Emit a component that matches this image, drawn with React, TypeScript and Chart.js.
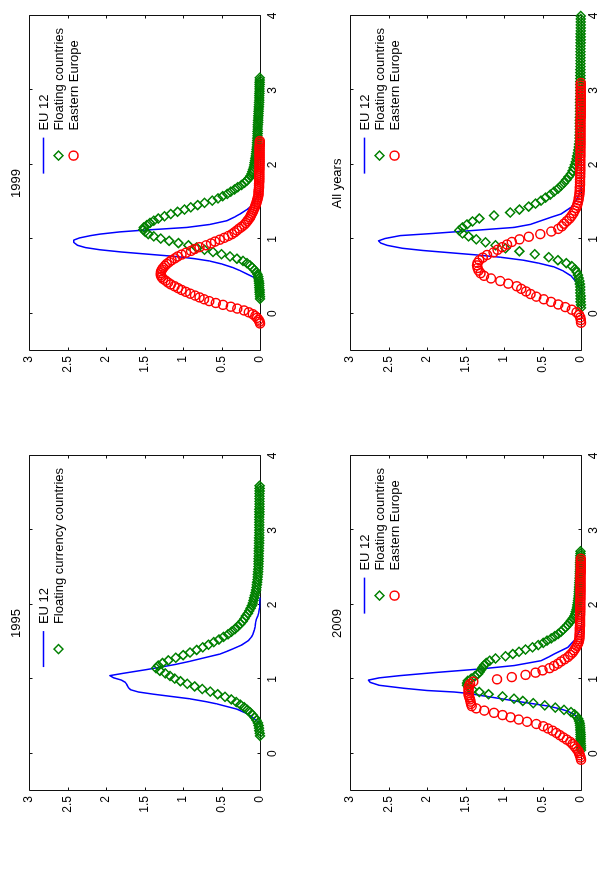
import { useEffect, useRef } from 'react';
import { Chart, registerables } from 'chart.js';

Chart.register(...registerables);

const FONT = "'Liberation Sans', Arial, Helvetica, sans-serif";
const BLUE = 'rgb(0,0,255)';
const GREEN = 'rgb(0,128,0)';
const RED = 'rgb(255,0,0)';

// Axis ticks shared by all four panels
const xTicks = [0, 1, 2, 3, 4];
const yTicks = [0, 0.5, 1, 1.5, 2, 2.5, 3];

// ---------- 1995 ----------
const eu95X = [0.40, 0.44, 0.50, 0.54, 0.60, 0.64, 0.67, 0.70, 0.74, 0.77, 0.80, 0.83, 0.86, 0.89, 0.93, 0.96, 0.99, 1.02, 1.05, 1.08, 1.10, 1.13, 1.155, 1.20, 1.24, 1.275, 1.30, 1.34, 1.38, 1.41, 1.46, 1.52, 1.57, 1.61, 1.66, 1.70, 1.75, 1.80, 1.85, 1.90, 1.96, 2.03, 2.10];
const eu95Y = [0, 0.04, 0.11, 0.17, 0.30, 0.45, 0.56, 0.70, 0.92, 1.15, 1.38, 1.58, 1.68, 1.71, 1.73, 1.75, 1.80, 1.90, 1.95, 1.78, 1.66, 1.48, 1.34, 1.10, 0.92, 0.78, 0.68, 0.52, 0.42, 0.35, 0.24, 0.15, 0.11, 0.09, 0.075, 0.065, 0.06, 0.05, 0.03, 0.015, 0.008, 0.004, 0];

const float95X = [
  0.240, 0.275, 0.310, 0.345, 0.380, 0.415, 0.450, 0.485, 0.520, 0.555,
  0.590, 0.625, 0.660, 0.695, 0.730, 0.765, 0.800, 0.835, 0.870, 0.905,
  0.940, 0.975, 1.010, 1.045, 1.080, 1.115, 1.150, 1.185, 1.220, 1.255,
  1.290, 1.325, 1.360, 1.395, 1.430, 1.465, 1.500, 1.535, 1.570, 1.605,
  1.640, 1.675, 1.710, 1.745, 1.780, 1.815, 1.850, 1.885, 1.920, 1.955,
  1.990, 2.025, 2.060, 2.095, 2.130, 2.165, 2.200, 2.235, 2.270, 2.305,
  2.340, 2.375, 2.410, 2.445, 2.480, 2.515, 2.550, 2.585, 2.620, 2.655,
  2.690, 2.725, 2.760, 2.795, 2.830, 2.865, 2.900, 2.935, 2.970, 3.005,
  3.040, 3.075, 3.110, 3.145, 3.180, 3.215, 3.250, 3.285, 3.320, 3.355,
  3.390, 3.425, 3.460, 3.495, 3.530, 3.565, 3.600,
];
const float95Y = [
  0, 0.004, 0.009, 0.013, 0.018, 0.027, 0.045, 0.069, 0.095, 0.126,
  0.164, 0.206, 0.255, 0.309, 0.372, 0.454, 0.55, 0.646, 0.75, 0.849,
  0.945, 1.034, 1.108, 1.169, 1.23, 1.30, 1.35, 1.32, 1.265, 1.19,
  1.093, 0.998, 0.91, 0.823, 0.743, 0.67, 0.60, 0.534, 0.473, 0.414,
  0.37, 0.326, 0.29, 0.255, 0.225, 0.202, 0.183, 0.158, 0.14, 0.122,
  0.105, 0.094, 0.085, 0.076, 0.068, 0.059, 0.05, 0.046, 0.041, 0.037,
  0.033, 0.029, 0.027, 0.025, 0.022, 0.02, 0.019, 0.018, 0.018, 0.017,
  0.016, 0.015, 0.014, 0.013, 0.012, 0.012, 0.011, 0.01, 0.01, 0.01,
  0.01, 0.009, 0.009, 0.009, 0.009, 0.008, 0.008, 0.008, 0.007, 0.007,
  0.007, 0.007, 0.006, 0.006, 0.005, 0.005, 0.005,
];

// ---------- 1999 ----------
const eu99X = [0.40, 0.47, 0.53, 0.58, 0.62, 0.67, 0.71, 0.74, 0.77, 0.80, 0.83, 0.86, 0.89, 0.92, 0.96, 0.99, 1.02, 1.05, 1.07, 1.10, 1.12, 1.14, 1.16, 1.20, 1.25, 1.30, 1.34, 1.40, 1.45, 1.51, 1.57, 1.62, 1.67];
const eu99Y = [0, 0.04, 0.16, 0.26, 0.35, 0.50, 0.66, 0.85, 1.10, 1.45, 1.80, 2.08, 2.27, 2.37, 2.42, 2.42, 2.34, 2.20, 2.08, 1.82, 1.56, 1.25, 0.95, 0.65, 0.43, 0.33, 0.26, 0.17, 0.11, 0.07, 0.04, 0.015, 0];

const float99X = [
  0.20, 0.23, 0.26, 0.29, 0.32, 0.35, 0.38, 0.41, 0.44, 0.47,
  0.50, 0.53, 0.56, 0.59, 0.62, 0.65, 0.68, 0.71, 0.74, 0.77,
  0.80, 0.83, 0.86, 0.89, 0.92, 0.95, 0.98, 1.01, 1.04, 1.07,
  1.10, 1.13, 1.16, 1.19, 1.22, 1.25, 1.28, 1.31, 1.34, 1.37,
  1.40, 1.43, 1.46, 1.49, 1.52, 1.55, 1.58, 1.61, 1.64, 1.67,
  1.70, 1.73, 1.76, 1.79, 1.82, 1.85, 1.88, 1.91, 1.94, 1.97,
  2.00, 2.03, 2.06, 2.09, 2.12, 2.15, 2.18, 2.21, 2.24, 2.27,
  2.30, 2.33, 2.36, 2.39, 2.42, 2.45, 2.48, 2.51, 2.54, 2.57,
  2.60, 2.63, 2.66, 2.69, 2.72, 2.75, 2.78, 2.81, 2.84, 2.87,
  2.90, 2.93, 2.96, 2.99, 3.02, 3.05, 3.08, 3.11, 3.14, 3.17,
];
const float99Y = [
  0, 0, 0.003, 0.005, 0.005, 0.009, 0.01, 0.011, 0.015, 0.019,
  0.025, 0.033, 0.05, 0.072, 0.10, 0.13, 0.17, 0.222, 0.30, 0.39,
  0.50, 0.61, 0.72, 0.825, 0.93, 1.06, 1.18, 1.29, 1.38, 1.45,
  1.49, 1.515, 1.51, 1.47, 1.43, 1.38, 1.32, 1.24, 1.16, 1.07,
  0.98, 0.90, 0.81, 0.72, 0.62, 0.545, 0.485, 0.425, 0.38, 0.33,
  0.29, 0.24, 0.20, 0.17, 0.145, 0.125, 0.11, 0.099, 0.09, 0.082,
  0.075, 0.07, 0.065, 0.06, 0.056, 0.052, 0.047, 0.044, 0.04, 0.038,
  0.037, 0.035, 0.034, 0.033, 0.031, 0.031, 0.03, 0.029, 0.027, 0.025,
  0.024, 0.023, 0.021, 0.02, 0.018, 0.017, 0.015, 0.013, 0.012, 0.01,
  0.01, 0.009, 0.008, 0.007, 0.007, 0.006, 0.005, 0.005, 0.004, 0.004,
];

const east99X = [
  -0.130, -0.105, -0.080, -0.055, -0.030, -0.005, 0.020, 0.045, 0.070, 0.095,
  0.120, 0.145, 0.170, 0.195, 0.220, 0.245, 0.270, 0.295, 0.320, 0.345,
  0.370, 0.395, 0.420, 0.445, 0.470, 0.495, 0.520, 0.545, 0.570, 0.595,
  0.620, 0.645, 0.670, 0.695, 0.720, 0.745, 0.770, 0.795, 0.820, 0.845,
  0.870, 0.895, 0.920, 0.945, 0.970, 0.995, 1.020, 1.045, 1.070, 1.095,
  1.120, 1.145, 1.170, 1.195, 1.220, 1.245, 1.270, 1.295, 1.320, 1.345,
  1.370, 1.395, 1.420, 1.445, 1.470, 1.495, 1.520, 1.545, 1.570, 1.595,
  1.620, 1.645, 1.670, 1.695, 1.720, 1.745, 1.770, 1.795, 1.820, 1.845,
  1.870, 1.895, 1.920, 1.945, 1.970, 1.995, 2.020, 2.045, 2.070, 2.095,
  2.120, 2.145, 2.170, 2.195, 2.220, 2.245, 2.270, 2.295, 2.320,
];
const east99Y = [
  0, 0.006, 0.02, 0.039, 0.063, 0.094, 0.145, 0.208, 0.295, 0.38,
  0.48, 0.574, 0.658, 0.726, 0.785, 0.843, 0.905, 0.964, 1.02, 1.064,
  1.11, 1.16, 1.195, 1.226, 1.26, 1.279, 1.29, 1.29, 1.285, 1.272,
  1.255, 1.235, 1.21, 1.18, 1.15, 1.106, 1.07, 1.02, 0.96, 0.896,
  0.85, 0.785, 0.70, 0.636, 0.585, 0.522, 0.465, 0.411, 0.365, 0.331,
  0.30, 0.269, 0.238, 0.206, 0.185, 0.166, 0.148, 0.13, 0.12, 0.108,
  0.095, 0.083, 0.073, 0.063, 0.054, 0.046, 0.04, 0.033, 0.027, 0.021,
  0.019, 0.018, 0.016, 0.014, 0.013, 0.012, 0.011, 0.01, 0.01, 0.01,
  0.009, 0.009, 0.009, 0.008, 0.008, 0.008, 0.007, 0.007, 0.007, 0.006,
  0.006, 0.006, 0.005, 0.005, 0.005, 0.005, 0.004, 0.004, 0.004,
];

// ---------- 2009 ----------
const eu09X = [0.40, 0.44, 0.50, 0.53, 0.57, 0.60, 0.64, 0.67, 0.70, 0.74, 0.78, 0.81, 0.83, 0.85, 0.88, 0.92, 0.96, 0.99, 1.02, 1.05, 1.09, 1.14, 1.185, 1.25, 1.30, 1.34, 1.43, 1.52, 1.61, 1.67, 1.72];
const eu09Y = [0, 0.02, 0.06, 0.09, 0.17, 0.26, 0.42, 0.61, 0.80, 1.04, 1.28, 1.45, 1.65, 2.00, 2.30, 2.62, 2.74, 2.76, 2.62, 2.35, 1.91, 1.30, 0.87, 0.52, 0.42, 0.35, 0.17, 0.09, 0.04, 0.01, 0];

const float09X = [
  0.05, 0.08, 0.11, 0.14, 0.17, 0.20, 0.23, 0.26, 0.29, 0.32,
  0.35, 0.38, 0.41, 0.44, 0.47, 0.50, 0.53, 0.56, 0.59, 0.62,
  0.65, 0.68, 0.71, 0.74, 0.77, 0.80, 0.83, 0.86, 0.89, 0.92,
  0.95, 0.98, 1.01, 1.04, 1.07, 1.10, 1.13, 1.16, 1.19, 1.22,
  1.25, 1.28, 1.31, 1.34, 1.37, 1.40, 1.43, 1.46, 1.49, 1.52,
  1.55, 1.58, 1.61, 1.64, 1.67, 1.70, 1.73, 1.76, 1.79, 1.82,
  1.85, 1.88, 1.91, 1.94, 1.97, 2.00, 2.03, 2.06, 2.09, 2.12,
  2.15, 2.18, 2.21, 2.24, 2.27, 2.30, 2.33, 2.36, 2.39, 2.42,
  2.45, 2.48, 2.51, 2.54, 2.57, 2.60, 2.63, 2.66, 2.69, 2.72,
];
const float09Y = [
  0, 0, 0, 0.004, 0.005, 0.005, 0.005, 0.005, 0.006, 0.01,
  0.01, 0.013, 0.017, 0.025, 0.036, 0.055, 0.085, 0.13, 0.22, 0.335,
  0.47, 0.62, 0.755, 0.87, 1.02, 1.20, 1.32, 1.41, 1.46, 1.48,
  1.48, 1.47, 1.425, 1.38, 1.34, 1.315, 1.295, 1.28, 1.258, 1.23,
  1.186, 1.11, 0.98, 0.885, 0.805, 0.72, 0.63, 0.555, 0.49, 0.44,
  0.387, 0.34, 0.297, 0.26, 0.23, 0.20, 0.173, 0.15, 0.128, 0.105,
  0.087, 0.075, 0.066, 0.057, 0.05, 0.048, 0.043, 0.039, 0.035, 0.033,
  0.03, 0.028, 0.026, 0.024, 0.022, 0.021, 0.019, 0.018, 0.016, 0.015,
  0.015, 0.013, 0.012, 0.011, 0.011, 0.01, 0.009, 0.008, 0.007, 0.006,
];

const east09X = [
  -0.08, -0.05, -0.02, 0.01, 0.04, 0.07, 0.10, 0.13, 0.16, 0.19,
  0.22, 0.25, 0.28, 0.31, 0.34, 0.37, 0.40, 0.43, 0.46, 0.49,
  0.52, 0.55, 0.58, 0.61, 0.64, 0.67, 0.70, 0.73, 0.76, 0.79,
  0.82, 0.85, 0.88, 0.91, 0.94, 0.97, 1.00, 1.03, 1.06, 1.09,
  1.12, 1.15, 1.18, 1.21, 1.24, 1.27, 1.30, 1.33, 1.36, 1.39,
  1.42, 1.45, 1.48, 1.51, 1.54, 1.57, 1.60, 1.63, 1.66, 1.69,
  1.72, 1.75, 1.78, 1.81, 1.84, 1.87, 1.90, 1.93, 1.96, 1.99,
  2.02, 2.05, 2.08, 2.11, 2.14, 2.17, 2.20, 2.23, 2.26, 2.29,
  2.32, 2.35, 2.38, 2.41, 2.44, 2.47, 2.50, 2.53, 2.56, 2.59,
  2.62,
];
const east09Y = [
  0, 0.007, 0.015, 0.025, 0.04, 0.062, 0.085, 0.11, 0.14, 0.185,
  0.23, 0.275, 0.32, 0.37, 0.43, 0.49, 0.58, 0.70, 0.81, 0.915,
  1.02, 1.13, 1.255, 1.36, 1.42, 1.43, 1.435, 1.44, 1.45, 1.46,
  1.46, 1.46, 1.46, 1.455, 1.44, 1.40, 1.09, 0.90, 0.72, 0.59,
  0.50, 0.41, 0.35, 0.30, 0.26, 0.215, 0.17, 0.14, 0.11, 0.09,
  0.07, 0.055, 0.04, 0.029, 0.022, 0.02, 0.018, 0.017, 0.016, 0.015,
  0.014, 0.014, 0.013, 0.012, 0.012, 0.011, 0.011, 0.01, 0.01, 0.01,
  0.009, 0.009, 0.008, 0.008, 0.008, 0.007, 0.007, 0.007, 0.006, 0.006,
  0.006, 0.005, 0.005, 0.005, 0.004, 0.004, 0.004, 0.004, 0.003, 0.003,
  0.003,
];

// ---------- All years ----------
const euAllX = [0.27, 0.40, 0.51, 0.58, 0.63, 0.68, 0.72, 0.76, 0.79, 0.82, 0.85, 0.88, 0.92, 0.95, 0.98, 1.01, 1.05, 1.08, 1.12, 1.16, 1.20, 1.25, 1.30, 1.34, 1.43, 1.52, 1.61, 1.70];
const euAllY = [0, 0.04, 0.13, 0.24, 0.35, 0.55, 0.75, 1.05, 1.35, 1.70, 2.05, 2.32, 2.52, 2.60, 2.63, 2.55, 2.35, 1.91, 1.39, 0.87, 0.66, 0.52, 0.38, 0.26, 0.13, 0.065, 0.02, 0];

const floatAllX = [
  0.08, 0.12, 0.16, 0.20, 0.24, 0.28, 0.32, 0.36, 0.40, 0.44,
  0.48, 0.52, 0.56, 0.60, 0.64, 0.68, 0.72, 0.76, 0.80, 0.84,
  0.88, 0.92, 0.96, 1.00, 1.04, 1.08, 1.12, 1.16, 1.20, 1.24,
  1.28, 1.32, 1.36, 1.40, 1.44, 1.48, 1.52, 1.56, 1.60, 1.64,
  1.68, 1.72, 1.76, 1.80, 1.84, 1.88, 1.92, 1.96, 2.00, 2.04,
  2.08, 2.12, 2.16, 2.20, 2.24, 2.28, 2.32, 2.36, 2.40, 2.44,
  2.48, 2.52, 2.56, 2.60, 2.64, 2.68, 2.72, 2.76, 2.80, 2.84,
  2.88, 2.92, 2.96, 3.00, 3.04, 3.08, 3.12, 3.16, 3.20, 3.24,
  3.28, 3.32, 3.36, 3.40, 3.44, 3.48, 3.52, 3.56, 3.60, 3.64,
  3.68, 3.72, 3.76, 3.80, 3.84, 3.88, 3.92, 3.96, 4.00,
];
const floatAllY = [
  0, 0, 0.005, 0.005, 0.005, 0.01, 0.01, 0.01, 0.015, 0.02,
  0.03, 0.04, 0.055, 0.08, 0.12, 0.19, 0.30, 0.42, 0.60, 0.80,
  0.98, 1.11, 1.24, 1.36, 1.46, 1.54, 1.58, 1.54, 1.48, 1.41,
  1.32, 1.13, 0.92, 0.80, 0.68, 0.59, 0.52, 0.46, 0.40, 0.35,
  0.30, 0.26, 0.22, 0.19, 0.16, 0.13, 0.11, 0.095, 0.08, 0.068,
  0.058, 0.05, 0.042, 0.036, 0.03, 0.025, 0.02, 0.019, 0.018, 0.017,
  0.016, 0.015, 0.015, 0.014, 0.014, 0.013, 0.013, 0.012, 0.012, 0.011,
  0.011, 0.01, 0.01, 0.01, 0.009, 0.009, 0.009, 0.008, 0.008, 0.008,
  0.008, 0.007, 0.007, 0.007, 0.007, 0.006, 0.006, 0.006, 0.006, 0.005,
  0.005, 0.005, 0.005, 0.004, 0.004, 0.004, 0.004, 0.003, 0.003,
];

const eastAllX = [
  -0.120, -0.085, -0.050, -0.015, 0.020, 0.055, 0.090, 0.125, 0.160, 0.195,
  0.230, 0.265, 0.300, 0.335, 0.370, 0.405, 0.440, 0.475, 0.510, 0.545,
  0.580, 0.615, 0.650, 0.685, 0.720, 0.755, 0.790, 0.825, 0.860, 0.895,
  0.930, 0.965, 1.000, 1.035, 1.070, 1.105, 1.140, 1.175, 1.210, 1.245,
  1.280, 1.315, 1.350, 1.385, 1.420, 1.455, 1.490, 1.525, 1.560, 1.595,
  1.630, 1.665, 1.700, 1.735, 1.770, 1.805, 1.840, 1.875, 1.910, 1.945,
  1.980, 2.015, 2.050, 2.085, 2.120, 2.155, 2.190, 2.225, 2.260, 2.295,
  2.330, 2.365, 2.400, 2.435, 2.470, 2.505, 2.540, 2.575, 2.610, 2.645,
  2.680, 2.715, 2.750, 2.785, 2.820, 2.855, 2.890, 2.925, 2.960, 2.995,
  3.030, 3.065, 3.100,
];
const eastAllY = [
  0, 0.004, 0.009, 0.025, 0.06, 0.12, 0.205, 0.295, 0.39, 0.485,
  0.58, 0.655, 0.715, 0.775, 0.835, 0.945, 1.05, 1.17, 1.26, 1.305,
  1.33, 1.343, 1.35, 1.343, 1.32, 1.276, 1.22, 1.135, 1.085, 1.022,
  0.96, 0.898, 0.80, 0.678, 0.53, 0.385, 0.297, 0.25, 0.22, 0.185,
  0.15, 0.124, 0.101, 0.083, 0.066, 0.053, 0.043, 0.034, 0.028, 0.022,
  0.018, 0.016, 0.015, 0.014, 0.013, 0.012, 0.011, 0.011, 0.01, 0.01,
  0.01, 0.009, 0.009, 0.009, 0.008, 0.008, 0.008, 0.008, 0.007, 0.007,
  0.007, 0.006, 0.006, 0.006, 0.006, 0.005, 0.005, 0.005, 0.005, 0.004,
  0.004, 0.004, 0.004, 0.004, 0.003, 0.003, 0.003, 0.003, 0.003, 0.002,
  0.002, 0.002, 0.002,
];

type Kind = 'line' | 'diamond' | 'circle';
type Series = { label: string; xs: number[]; ys: number[]; kind: Kind };
type PanelCfg = { title: string; left: number; top: number; series: Series[] };

// Each panel is drawn upright on a 430x282 canvas and turned a quarter turn
// counter-clockwise on the page.
const CW = 430;
const CH = 282;
const MARK_R = 4.5;
const MARK_W = 1.5;

const panels: PanelCfg[] = [
  {
    title: '1999', left: 0, top: 0,
    series: [
      { label: 'EU 12', xs: eu99X, ys: eu99Y, kind: 'line' },
      { label: 'Floating countries', xs: float99X, ys: float99Y, kind: 'diamond' },
      { label: 'Eastern Europe', xs: east99X, ys: east99Y, kind: 'circle' },
    ],
  },
  {
    title: 'All years', left: 321, top: 0,
    series: [
      { label: 'EU 12', xs: euAllX, ys: euAllY, kind: 'line' },
      { label: 'Floating countries', xs: floatAllX, ys: floatAllY, kind: 'diamond' },
      { label: 'Eastern Europe', xs: eastAllX, ys: eastAllY, kind: 'circle' },
    ],
  },
  {
    title: '1995', left: 0, top: 440,
    series: [
      { label: 'EU 12', xs: eu95X, ys: eu95Y, kind: 'line' },
      { label: 'Floating currency countries', xs: float95X, ys: float95Y, kind: 'diamond' },
    ],
  },
  {
    title: '2009', left: 321, top: 440,
    series: [
      { label: 'EU 12', xs: eu09X, ys: eu09Y, kind: 'line' },
      { label: 'Floating countries', xs: float09X, ys: float09Y, kind: 'diamond' },
      { label: 'Eastern Europe', xs: east09X, ys: east09Y, kind: 'circle' },
    ],
  },
];

const zip = (xs: number[], ys: number[]) => {
  const n = Math.min(xs.length, ys.length);
  const out: { x: number; y: number }[] = [];
  for (let i = 0; i < n; i++) out.push({ x: xs[i], y: ys[i] });
  return out;
};

function toDataset(s: Series) {
  if (s.kind === 'line') {
    return {
      label: s.label,
      data: zip(s.xs, s.ys),
      showLine: true,
      borderColor: BLUE,
      borderWidth: 1.5,
      borderJoinStyle: 'round',
      pointRadius: 0,
      pointHoverRadius: 0,
      order: 3,
      clip: false,
      kind: s.kind,
    };
  }
  const color = s.kind === 'diamond' ? GREEN : RED;
  return {
    label: s.label,
    data: zip(s.xs, s.ys),
    showLine: false,
    borderColor: color,
    backgroundColor: 'rgba(0,0,0,0)',
    pointStyle: s.kind === 'diamond' ? 'rectRot' : 'circle',
    pointRadius: MARK_R,
    pointBorderWidth: MARK_W,
    pointBorderColor: color,
    pointBackgroundColor: 'rgba(0,0,0,0)',
    order: s.kind === 'diamond' ? 2 : 1,
    clip: false,
    kind: s.kind,
  };
}

// Box around the plot area with short inward ticks on all four sides.
const framePlugin = {
  id: 'frame',
  beforeDatasetsDraw(chart: any) {
    const { ctx, chartArea: a, scales } = chart;
    const sx = scales.x;
    const sy = scales.y;
    const L = Math.round(a.left) + 0.5;
    const R = Math.round(a.right) + 0.5;
    const T = Math.round(a.top) + 0.5;
    const B = Math.round(a.bottom) + 0.5;
    const len = 3;
    ctx.save();
    ctx.strokeStyle = '#111';
    ctx.lineWidth = 1;
    ctx.beginPath();
    ctx.rect(L, T, R - L, B - T);
    for (const v of xTicks) {
      const p = Math.round(sx.getPixelForValue(v)) + 0.5;
      ctx.moveTo(p, B); ctx.lineTo(p, B - len);
      ctx.moveTo(p, T); ctx.lineTo(p, T + len);
    }
    for (const v of yTicks) {
      const p = Math.round(sy.getPixelForValue(v)) + 0.5;
      ctx.moveTo(L, p); ctx.lineTo(L + len, p);
      ctx.moveTo(R, p); ctx.lineTo(R - len, p);
    }
    ctx.stroke();
    ctx.restore();
  },
};

// Key in the upper right corner of the plot area.
const keyPlugin = {
  id: 'key',
  afterDatasetsDraw(chart: any) {
    const { ctx, chartArea: a } = chart;
    const sets = chart.data.datasets;
    ctx.save();
    ctx.font = `13px ${FONT}`;
    const maxW = Math.max(...sets.map((d: any) => ctx.measureText(d.label).width));
    const textLeft = a.right - 12 - maxW;
    const cx = textLeft - 25;
    sets.forEach((d: any, i: number) => {
      const cy = a.top + 14.5 + i * 15;
      ctx.lineWidth = d.kind === 'line' ? 1.5 : MARK_W;
      ctx.strokeStyle = d.borderColor;
      ctx.beginPath();
      if (d.kind === 'line') {
        ctx.moveTo(cx - 18, cy);
        ctx.lineTo(cx + 18, cy);
      } else if (d.kind === 'diamond') {
        ctx.moveTo(cx - MARK_R, cy);
        ctx.lineTo(cx, cy - MARK_R);
        ctx.lineTo(cx + MARK_R, cy);
        ctx.lineTo(cx, cy + MARK_R);
        ctx.closePath();
      } else {
        ctx.arc(cx, cy, MARK_R, 0, Math.PI * 2);
      }
      ctx.stroke();
      ctx.fillStyle = '#000';
      ctx.textAlign = 'left';
      ctx.textBaseline = 'middle';
      ctx.fillText(d.label, textLeft, cy + 0.5);
    });
    ctx.restore();
  },
};

function Panel({ cfg }: { cfg: PanelCfg }) {
  const ref = useRef<HTMLCanvasElement>(null);

  useEffect(() => {
    const canvas = ref.current;
    if (!canvas) return;
    const chart = new Chart(canvas, {
      type: 'scatter',
      data: { datasets: cfg.series.map(toDataset) as any },
      options: {
        responsive: false,
        animation: false,
        devicePixelRatio: 1,
        events: [],
        layout: { padding: { left: 0, right: 16, top: 0, bottom: 0 } },
        plugins: {
          legend: { display: false },
          tooltip: { enabled: false },
          title: {
            display: true,
            text: cfg.title,
            color: '#000',
            fullSize: false,
            font: { family: FONT, size: 13, weight: 'normal', lineHeight: 1.2 },
            padding: { top: 9, bottom: 4.4 },
          },
        },
        scales: {
          x: {
            type: 'linear',
            position: 'bottom',
            min: -0.5,
            max: 4,
            afterBuildTicks: (s: any) => { s.ticks = xTicks.map((v) => ({ value: v })); },
            afterFit: (s: any) => { s.height = 22; },
            grid: { display: false, drawTicks: false },
            border: { display: false },
            ticks: {
              color: '#000',
              padding: 5,
              maxRotation: 0,
              font: { family: FONT, size: 12 },
              callback: (v: any) => String(v),
            },
          },
          y: {
            type: 'linear',
            position: 'left',
            min: 0,
            max: 3,
            afterBuildTicks: (s: any) => { s.ticks = yTicks.map((v) => ({ value: v })); },
            afterFit: (s: any) => { s.width = 79; },
            grid: { display: false, drawTicks: false },
            border: { display: false },
            ticks: {
              color: '#000',
              padding: 5,
              font: { family: FONT, size: 12 },
              callback: (v: any) => String(v),
            },
          },
        },
      } as any,
      plugins: [framePlugin, keyPlugin],
    });
    return () => chart.destroy();
  }, [cfg]);

  return (
    <div style={{ position: 'absolute', left: cfg.left, top: cfg.top, width: CH, height: CW }}>
      <div
        style={{
          position: 'absolute',
          left: 0,
          top: 0,
          width: CW,
          height: CH,
          transformOrigin: '0 0',
          transform: `translate(0px, ${CW}px) rotate(-90deg)`,
        }}
      >
        <canvas ref={ref} width={CW} height={CH} style={{ display: 'block', width: CW, height: CH }} />
      </div>
    </div>
  );
}

export default function App() {
  return (
    <div
      style={{
        position: 'absolute',
        left: 0,
        top: 0,
        width: 603,
        height: 871,
        background: '#fff',
        overflow: 'hidden',
      }}
    >
      {panels.map((p) => (
        <Panel key={p.title} cfg={p} />
      ))}
    </div>
  );
}
